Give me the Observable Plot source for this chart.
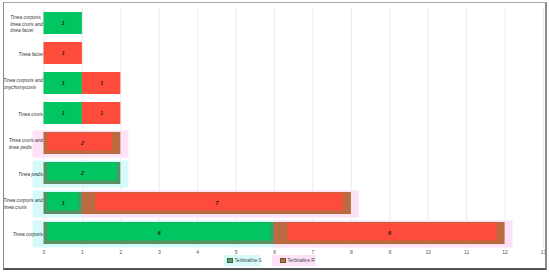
<!DOCTYPE html>
<html><head><meta charset="utf-8">
<script src="https://cdn.jsdelivr.net/npm/d3@7"></script>
<script src="https://cdn.jsdelivr.net/npm/@observablehq/plot@0.6"></script>
<style>
html,body{margin:0;padding:0;background:#fff;}
body{width:550px;height:273px;overflow:hidden;position:relative;font-family:"Liberation Sans",Arial,sans-serif;}
#chart{position:absolute;left:0;top:0;}
#chart svg{overflow:visible;}
#chart [aria-label^="y-axis"] text{font-style:italic;}
#frame{position:absolute;left:2.5px;top:1.5px;width:541px;height:265px;border-left:1px solid #8a8a8a;border-top:1px solid #a8a8a8;border-right:2px solid #8a8a8a;border-bottom:2px solid #555;pointer-events:none;}
.item{position:absolute;top:255px;height:11px;display:flex;align-items:center;font-size:4.6px;color:#444;white-space:nowrap;}
.sw{flex:none;width:3.5px;height:3.5px;margin-right:2px;border:0.5px solid rgba(0,0,0,0.35);}
</style>
</head><body>
<div id="chart"></div>
<div id="legend"></div>
<div id="frame"></div>
<script>
// ---- data ----
const categories = [
  "Tinea corporis, tinea cruris and tinea faciei",
  "Tinea faciei",
  "Tinea corporis and onychomycosis",
  "Tinea cruris",
  "Tinea cruris and tinea pedis",
  "Tinea pedis",
  "Tinea corporis and tinea cruris",
  "Tinea corporis"
];
const tickLabels = [
  "Tinea corporis,\ntinea cruris and\ntinea faciei",
  "Tinea faciei",
  "Tinea corporis and\nonychomycosis",
  "Tinea cruris",
  "Tinea cruris and\ntinea pedis",
  "Tinea pedis",
  "Tinea corporis and\ntinea cruris",
  "Tinea corporis"
];
const seriesNames = ["Terbinafine S", "Terbinafine R"];
const susceptible = [1, 0, 1, 1, 0, 2, 1, 6];
const resistant   = [0, 1, 1, 1, 2, 0, 7, 6];
const layeredRows = ["Tinea cruris and tinea pedis", "Tinea pedis", "Tinea corporis and tinea cruris", "Tinea corporis"];
const xTicks = [0,1,2,3,4,5,6,7,8,9,10,11,12,13];

// ---- colours ----
const bright = {"Terbinafine S": "#00c560", "Terbinafine R": "#fd4b3c"};
const dark   = {"Terbinafine S": "#5a9062", "Terbinafine R": "#b96a40"};
const halo   = {"Terbinafine S": "#d6fafa", "Terbinafine R": "#fde2f7"};
const legendSwatch = {"Terbinafine S": "#5e9c69", "Terbinafine R": "#ad7a3c"};

// ---- segments (stacked) ----
const segments = [];
categories.forEach((c, i) => {
  segments.push({cat: c, series: seriesNames[0], x1: 0, x2: susceptible[i], value: susceptible[i]});
  segments.push({cat: c, series: seriesNames[1], x1: susceptible[i], x2: susceptible[i] + resistant[i], value: resistant[i]});
});
const nz = segments.filter(d => d.value > 0);
const isL = d => layeredRows.includes(d.cat);
const plainSeg = nz.filter(d => !isL(d));
const layS = nz.filter(d => isL(d) && d.series === seriesNames[0]);
const layR = nz.filter(d => isL(d) && d.series === seriesNames[1]);
const layR0 = layR.filter(d => d.x1 === 0);
const layR1 = layR.filter(d => d.x1 > 0);

const base = {x1: "x1", x2: "x2", y: "cat"};
const chart = Plot.plot({
  width: 550, height: 258,
  marginLeft: 43.5, marginRight: 7, marginTop: 7.5, marginBottom: 10,
  style: {fontFamily: "'Liberation Sans', Arial, sans-serif", fontSize: "5px", background: "transparent"},
  x: {domain: [0, 13], axis: null},
  y: {domain: categories, paddingInner: 0.27, paddingOuter: 0.135, axis: null},
  marks: [
    Plot.ruleX(xTicks, {x: d => d, stroke: "#e6e6e6", strokeWidth: 0.8}),
    // halos
    Plot.barX(layS, {...base, fill: d => halo[d.series], insetTop: -1.5, insetBottom: -3.5, insetLeft: -11, insetRight: -8}),
    Plot.barX(layR1, {...base, fill: d => halo[d.series], insetTop: -1.5, insetBottom: -3.5, insetLeft: 0, insetRight: -8}),
    Plot.barX(layR0, {...base, fill: d => halo[d.series], insetTop: -1.5, insetBottom: -3.5, insetLeft: -11, insetRight: -8}),
    // layered S
    Plot.barX(layS, {...base, fill: d => dark[d.series]}),
    Plot.barX(layS, {...base, fill: d => bright[d.series], insetLeft: 3.5, insetRight: 3, insetTop: 0.3, insetBottom: 3.5}),
    // layered R
    Plot.barX(layR, {...base, fill: d => dark[d.series]}),
    Plot.barX(layR0, {...base, fill: d => bright[d.series], insetLeft: 3.5, insetRight: 8, insetTop: 0.8, insetBottom: 3.5}),
    Plot.barX(layR1, {...base, fill: d => bright[d.series], insetLeft: 13.5, insetRight: 8, insetTop: 0.8, insetBottom: 3.5}),
    // plain bars
    Plot.barX(plainSeg, {...base, fill: d => bright[d.series]}),
    // value labels
    Plot.text(nz, {x: d => (d.x1 + d.x2) / 2, y: "cat", text: d => String(d.value), fill: "#1a1a1a",
      fontSize: 5.2, fontWeight: "bold", fontStyle: "italic"}),
    Plot.axisX({ticks: xTicks, tickSize: 0, tickPadding: 1.8, tickFormat: d => String(d), fill: "#555", fontSize: 5, label: null}),
    Plot.axisY({tickSize: 0, tickPadding: 1, tickFormat: d => tickLabels[categories.indexOf(d)], fill: "#333", fontSize: 4.8, lineHeight: 1.32, label: null})
  ]
});
document.getElementById("chart").appendChild(chart);

// left-align the lines of each wrapped y label inside its right-aligned block
chart.querySelectorAll('[aria-label^="y-axis"] text').forEach(t => {
  const spans = t.querySelectorAll("tspan");
  if (spans.length < 2) return;
  let max = 0;
  spans.forEach(s => { max = Math.max(max, s.getComputedTextLength()); });
  t.setAttribute("text-anchor", "start");
  spans.forEach(s => {
    const x0 = +(s.getAttribute("x") || 0);
    s.setAttribute("x", x0 - max);
  });
});

// legend
const legendPos = [{left: 224, width: 36, swLeft: 3.3}, {left: 272, width: 44, swLeft: 8}];
const lg = document.getElementById("legend");
seriesNames.forEach((s, i) => {
  const it = document.createElement("div");
  it.className = "item";
  it.style.left = legendPos[i].left + "px";
  it.style.width = legendPos[i].width + "px";
  it.style.background = halo[s];
  it.style.paddingLeft = legendPos[i].swLeft + "px";
  it.style.boxSizing = "border-box";
  const sw = document.createElement("span");
  sw.className = "sw";
  sw.style.background = legendSwatch[s];
  const tx = document.createElement("span");
  tx.textContent = s;
  it.appendChild(sw); it.appendChild(tx);
  lg.appendChild(it);
});
</script>
</body></html>
